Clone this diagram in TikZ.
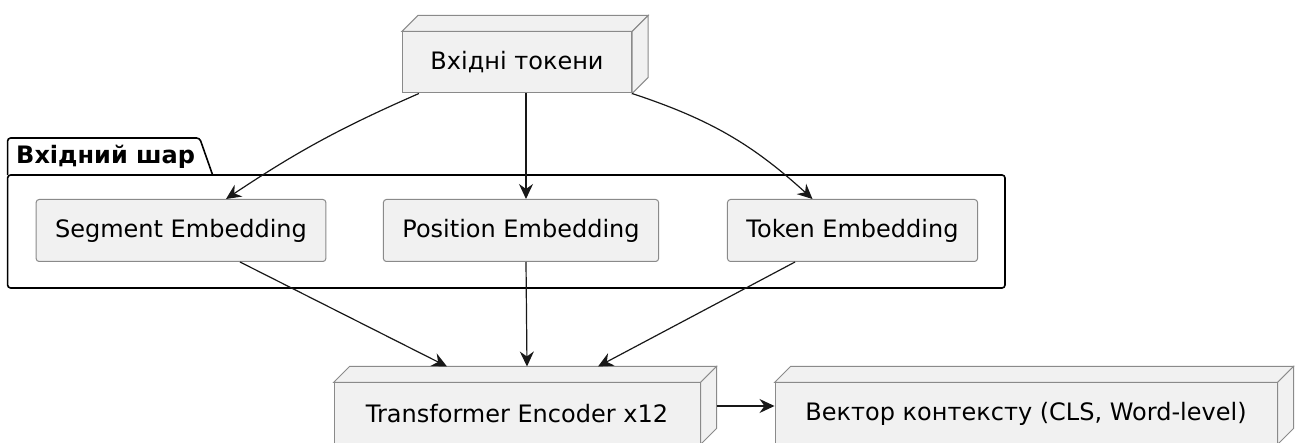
\documentclass[tikz,border=0pt]{standalone}
\usepackage{fontspec}
\setmainfont{DejaVu Sans}
\usetikzlibrary{arrows.meta}
\pgfdeclarelayer{background}
\pgfsetlayers{background,main}
\definecolor{boxfill}{HTML}{F1F1F1}
\definecolor{boxline}{HTML}{8A8A8A}
\definecolor{arrowline}{HTML}{181818}
\tikzstyle{layer}=[draw=boxline, fill=boxfill, line width=0.5pt,
  rounded corners=1.5pt, inner xsep=9.5pt, minimum height=31pt,
  font=\fontsize{12}{14}\selectfont]
\tikzstyle{device}=[draw=boxline, fill=boxfill, line width=0.5pt,
  inner xsep=14pt, minimum height=30.5pt, font=\fontsize{12}{14}\selectfont]
\tikzstyle{face}=[draw=boxline, fill=boxfill, line width=0.5pt]
\tikzstyle{package}=[draw=black, line width=0.8pt, rounded corners=1.5pt]
\tikzstyle{packtitle}=[inner sep=0pt, font=\fontsize{12}{14}\selectfont\bfseries]
\tikzstyle{line}=[draw, color=arrowline, line width=0.6pt,
  -{Stealth[length=7.5pt,width=7pt,inset=2.5pt]}]
\newcommand{\layer}[2]{node (p#1) [layer] {#2}}
\newcommand{\device}[3]{node (p#1) [device, minimum width=#2] {#3}}
\newcommand{\boxsides}[1]{%
  % top and right faces of a 3d box
  \path [face] (#1.north west) -- ++(16,16) -- ([shift={(16,16)}]#1.north east)
    -- (#1.north east) -- cycle;
  \path [face] (#1.north east) -- ++(16,16) -- ([shift={(16,16)}]#1.south east)
    -- (#1.south east) -- cycle;}
\newcommand{\layerframe}[3]{%
  \begin{pgfonlayer}{background}
    % Left-top and right-bottom corners of the frame
    \path (#1.west |- #1.north)+(-28,24) coordinate (a1);
    \path (#2.east |- #2.south)+(27,-26) coordinate (a2);
    \path [package] (a1) rectangle (a2);
    \path [package] (a1) -- +(0,37) -- +(192,37) -- +(205,0);
    \path (a1)+(98,18) node (l1) [packtitle] {#3};
  \end{pgfonlayer}}

\begin{document}
\begin{tikzpicture}[x=0.5pt, y=0.5pt]
\useasboundingbox (0,0) rectangle (1297,-443);

% Draw diagram elements
\path (517,-62.5)             \device{1}{114pt}{Вхідні токени};
\path (p1.center)+(-336,-168) \layer{2}{Segment Embedding};
\path (p1.center)+(4,-168)    \layer{3}{Position Embedding};
\path (p1.center)+(335.5,-168) \layer{4}{Token Embedding};

\path (p3.center)+(-4,-183)   \device{5}{183pt}{Transformer Encoder x12};
\path (p5.center)+(509,0)     \device{6}{251pt}{Вектор контексту (CLS, Word-level)};

\boxsides{p1}
\boxsides{p5}
\boxsides{p6}

% Draw arrows between elements
\path [line] ([shift={(17,0)}]p1.south west) to[bend right=5] ([shift={(45,0)}]p2.north);
\path [line] ([shift={(9,0)}]p1.south) -- ([shift={(5,0)}]p3.north);
\path [line] (p1.south east) to[bend left=12] ([shift={(-40,0)}]p4.north);

\path [line] ([shift={(59,0)}]p2.south) -- ([shift={(-70,16)}]p5.north);
\path [line] ([shift={(5,0)}]p3.south) -- ([shift={(10,16)}]p5.north);
\path [line] ([shift={(-57.5,0)}]p4.south) -- ([shift={(81,16)}]p5.north);

\path [line] ([shift={(16,7.5)}]p5.east) -- ([shift={(0,7.5)}]p6.west);

\layerframe{p2}{p4}{Вхідний шар}
\end{tikzpicture}
\end{document}
